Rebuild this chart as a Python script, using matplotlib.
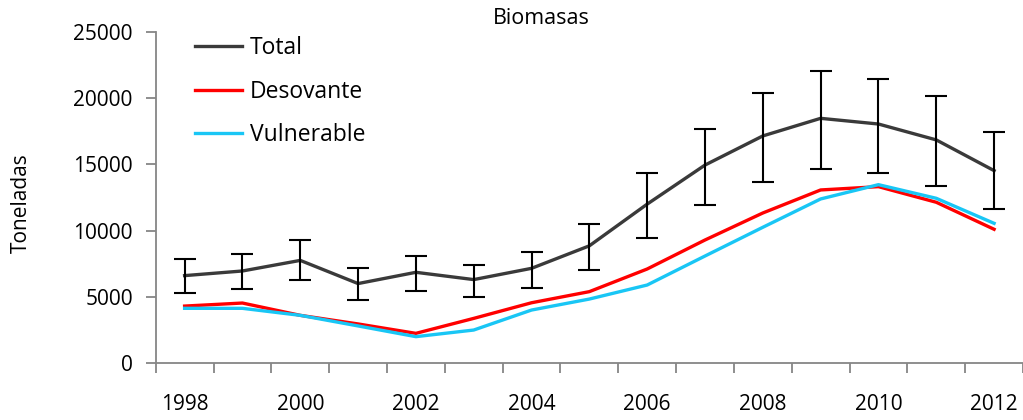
import matplotlib.pyplot as plt
import numpy as np

plt.rcParams["font.family"] = ["Open Sans", "DejaVu Sans"]

# values (toneladas)
years = list(range(1998, 2013))
total = [6600, 6950, 7750, 6000, 6850, 6300, 7150, 8850, 12000, 14950, 17150, 18480, 18050, 16850, 14530]
total_hi = [7830, 8250, 9310, 7150, 8080, 7430, 8360, 10520, 14330, 17670, 20420, 22050, 21480, 20140, 17470]
total_lo = [5260, 5570, 6250, 4760, 5440, 5010, 5690, 7050, 9470, 11910, 13650, 14630, 14330, 13390, 11630]
desovante = [4300, 4530, 3600, 2950, 2240, 3370, 4550, 5390, 7100, 9290, 11330, 13070, 13320, 12140, 10100]
vulnerable = [4130, 4130, 3600, 2800, 1990, 2490, 4000, 4830, 5890, 8080, 10250, 12390, 13470, 12440, 10550]

x = np.arange(len(years))
yerr = [np.array(total) - np.array(total_lo), np.array(total_hi) - np.array(total)]

fig = plt.figure(figsize=(10.23, 4.2), dpi=100)
ax = fig.add_axes([0.1522, 0.1357, 0.8478, 0.7881])

ax.plot(x, total, color="#3a3a3a", lw=2.4, label="Total", zorder=3)
ax.errorbar(x, total, yerr=yerr, fmt="none", ecolor="black", elinewidth=1.5,
            capsize=8, capthick=1.5, zorder=4)
ax.plot(x, desovante, color="#ff0000", lw=2.4, label="Desovante", zorder=3)
ax.plot(x, vulnerable, color="#19c6f5", lw=2.4, label="Vulnerable", zorder=3)

ax.set_xlim(-0.5, len(years) - 0.5)
ax.set_ylim(0, 25000)
ax.set_yticks(range(0, 25001, 5000))

# category axis: labels every other year, tick marks between categories
ax.set_xticks(x[::2])
ax.set_xticklabels([str(y) for y in years[::2]])
ax.set_xticks(np.arange(-0.5, len(years), 1), minor=True)
ax.tick_params(axis="x", which="major", length=0, pad=22, labelsize=15)
ax.tick_params(axis="x", which="minor", length=7, width=1.3, color="#868686", direction="out")
ax.tick_params(axis="y", length=7, width=1.3, color="#868686", pad=9.5, labelsize=15)

for side in ("top", "right"):
    ax.spines[side].set_visible(False)
for side in ("left", "bottom"):
    ax.spines[side].set_color("#868686")
    ax.spines[side].set_linewidth(1.3)

ax.set_ylabel("Toneladas", fontsize=15)
ax.yaxis.set_label_coords(-0.143, 0.483)
fig.text(0.529, 0.957, "Biomasas", ha="center", va="center", fontsize=15.5)

ax.legend(loc="upper left", bbox_to_anchor=(0.021, 1.05), frameon=False,
          fontsize=16.5, handlelength=2.05, handletextpad=0.35, labelspacing=0.85)

fig.savefig("out.png", dpi=100)
